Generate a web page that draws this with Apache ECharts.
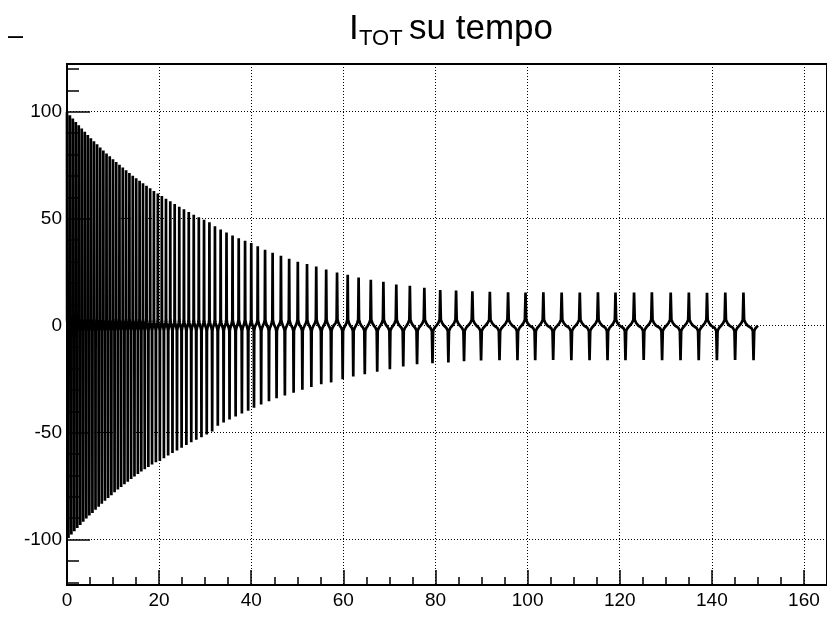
<!DOCTYPE html>
<html><head><meta charset="utf-8">
<script src="https://cdn.jsdelivr.net/npm/echarts@6/dist/echarts.min.js"></script>
<style>html,body{margin:0;padding:0;background:#fff}#c{width:827px;height:633px}</style>
</head><body><div id="c"></div>
<script>
// Positive peaks of I_TOT (time, value)
const posTimes = [0, 0.63, 1.27, 1.91, 2.55, 3.2, 3.86, 4.52, 5.18, 5.85, 6.53, 7.21, 7.89, 8.58, 9.28, 9.98, 10.68, 11.39, 12.11, 12.83, 13.55, 14.28, 15.02, 15.76, 16.5, 17.26, 18.05, 18.87, 19.72, 20.59, 21.49, 22.42, 23.38, 24.37, 25.39, 26.44, 27.52, 28.62, 29.75, 30.92, 32.12, 33.36, 34.63, 35.94, 37.28, 38.66, 40.0, 41.41, 43.0, 44.64, 46.45, 48.23, 50.11, 52.11, 54.11, 56.27, 58.63, 60.94, 63.31, 65.96, 68.69, 71.49, 74.44, 77.58, 81.03, 84.47, 88.01, 91.8, 95.76, 99.55, 103.42, 107.39, 111.33, 115.27, 119.08, 123.11, 126.98, 131.07, 135.01, 138.95, 142.92, 146.86];
const posValues = [100, 98.4, 96.8, 95.2, 93.7, 92.1, 90.6, 89.1, 87.6, 86.2, 84.8, 83.3, 81.9, 80.5, 79.2, 77.8, 76.5, 75.2, 73.9, 72.6, 71.4, 70.1, 68.9, 67.7, 66.6, 65.4, 64.2, 63.0, 61.8, 60.6, 59.3, 58.1, 56.9, 55.6, 54.4, 53.1, 51.9, 50.7, 49.5, 48.3, 46.5, 45.0, 43.6, 42.2, 40.9, 39.7, 38.6, 37.1, 35.5, 34.1, 32.7, 31.3, 29.9, 28.8, 27.6, 26.2, 24.9, 23.8, 22.5, 21.5, 20.5, 19.2, 18.6, 17.7, 16.7, 16.4, 16.1, 15.8, 15.6, 15.5, 15.6, 15.5, 15.5, 15.6, 15.5, 15.5, 15.6, 15.5, 15.5, 15.4, 15.5, 15.5];
// Negative peaks of I_TOT (time, value)
const negTimes = [0.32, 0.95, 1.59, 2.23, 2.88, 3.53, 4.19, 4.85, 5.52, 6.19, 6.87, 7.55, 8.24, 8.93, 9.63, 10.33, 11.04, 11.75, 12.47, 13.19, 13.92, 14.65, 15.39, 16.13, 16.88, 17.66, 18.46, 19.3, 20.16, 21.04, 21.96, 22.9, 23.88, 24.88, 25.92, 26.98, 28.07, 29.19, 30.34, 31.52, 32.74, 34.0, 35.29, 36.61, 37.97, 39.33, 40.6, 42.15, 43.85, 45.5, 47.3, 49.2, 51.1, 53.05, 55.2, 57.35, 59.85, 62.15, 64.65, 67.35, 70.1, 73.0, 76.0, 79.35, 82.8, 86.2, 89.9, 93.9, 97.8, 101.65, 105.55, 109.5, 113.45, 117.35, 121.25, 125.2, 129.2, 133.2, 137.15, 141.1, 145.05, 149.05];
const negValues = [-99.2, -97.6, -96.1, -94.6, -93.1, -91.6, -90.1, -88.7, -87.5, -86.0, -84.6, -83.2, -81.8, -80.5, -79.2, -77.9, -76.6, -75.4, -74.1, -72.9, -71.7, -70.5, -69.3, -68.2, -67.1, -66.0, -64.9, -63.8, -63.2, -62.0, -60.7, -59.5, -58.3, -57.0, -55.8, -54.5, -53.3, -52.1, -50.9, -49.4, -46.8, -45.3, -43.9, -42.4, -41.0, -39.8, -38.4, -36.8, -35.3, -33.9, -32.6, -31.3, -29.9, -28.6, -27.4, -26.5, -25.0, -23.8, -22.7, -21.5, -20.3, -19.1, -18.0, -17.6, -17.2, -16.6, -16.3, -16.1, -16.2, -16.1, -16.0, -16.1, -16.2, -16.1, -16.1, -16.0, -16.1, -16.2, -16.1, -16.1, -16.0, -16.1];
const baseShoulder = [2.8, -2.4];   // small bumps at the foot of each spike
const endPoint = [150, 0];
const xTickLabels = [0, 20, 40, 60, 80, 100, 120, 140, 160];
const yTickLabels = [-100, -50, 0, 50, 100];

function buildLine() {
  const ext = [];
  for (let i = 0; i < posTimes.length; i++) {
    ext.push([posTimes[i], posValues[i]]);
    ext.push([negTimes[i], negValues[i]]);
  }
  const pts = [];
  for (let i = 0; i < ext.length; i++) {
    const t = ext[i][0], v = ext[i][1];
    const gPrev = i > 0 ? t - ext[i - 1][0] : Infinity;
    const gNext = i < ext.length - 1 ? ext[i + 1][0] - t : Infinity;
    const w = Math.min(0.95, 0.5 * Math.min(gPrev, gNext));
    const s = v > 0 ? baseShoulder[0] : baseShoulder[1];
    if (i > 0) pts.push([t - w, 0], [t - 0.5 * w, s * 0.45], [t - 0.16 * w, s]);
    pts.push([t, v]);
    pts.push([t + 0.16 * w, s], [t + 0.5 * w, s * 0.45], [t + w, 0]);
  }
  pts.push(endPoint);
  return pts;
}

const FONT = 'Liberation Sans, Arial, Helvetica, sans-serif';
const chart = echarts.init(document.getElementById('c'), null, {renderer: 'canvas'});
chart.setOption({
  animation: false,
  backgroundColor: '#fff',
  grid: {left: 67, top: 64, bottom: 48, right: -6.3, show: true, borderColor: '#000', borderWidth: 2, backgroundColor: 'transparent'},
  xAxis: {
    type: 'value', min: 0, max: 165, interval: 20,
    axisLine: {show: true, onZero: false, lineStyle: {color: '#000', width: 2}},
    axisTick: {show: true, inside: true, length: 15, lineStyle: {color: '#000', width: 1.5}},
    minorTick: {show: true, splitNumber: 4, length: 8, lineStyle: {color: '#000', width: 1.5}},
    splitLine: {show: true, lineStyle: {color: '#000', width: 1, type: [1, 2]}},
    axisLabel: {color: '#000', fontSize: 19, fontFamily: FONT, margin: 6, showMaxLabel: false,
      formatter: v => xTickLabels.indexOf(v) >= 0 ? String(v) : ''}
  },
  yAxis: {
    type: 'value', min: -121.2, max: 122.3, splitNumber: 5,
    axisLine: {show: true, onZero: false, lineStyle: {color: '#000', width: 2}},
    axisTick: {show: true, inside: true, length: 23, lineStyle: {color: '#000', width: 1.5}},
    minorTick: {show: true, splitNumber: 5, length: 12, lineStyle: {color: '#000', width: 1.5}},
    splitLine: {show: true, lineStyle: {color: '#000', width: 1, type: [1, 2]}},
    axisLabel: {color: '#000', fontSize: 19, fontFamily: FONT, margin: 5, showMinLabel: false, showMaxLabel: false,
      formatter: v => yTickLabels.indexOf(v) >= 0 ? String(v) : ''}
  },
  graphic: [
    {type: 'text', left: 349, top: 12, style: {text: 'I', font: '35px ' + FONT, fill: '#000'}},
    {type: 'text', left: 359, top: 28, style: {text: 'TOT', font: '22px ' + FONT, fill: '#000'}},
    {type: 'text', left: 409, top: 12, style: {text: 'su tempo', font: '35px ' + FONT, fill: '#000'}},
    {type: 'text', left: 8, top: 23, style: {text: '\u2013', font: '27px ' + FONT, fill: '#000'}}
  ],
  series: [{
    type: 'line', data: buildLine(), showSymbol: false, symbol: 'none',
    lineStyle: {color: '#000', width: 2.7}, silent: true, clip: true
  }]
});
</script></body></html>
